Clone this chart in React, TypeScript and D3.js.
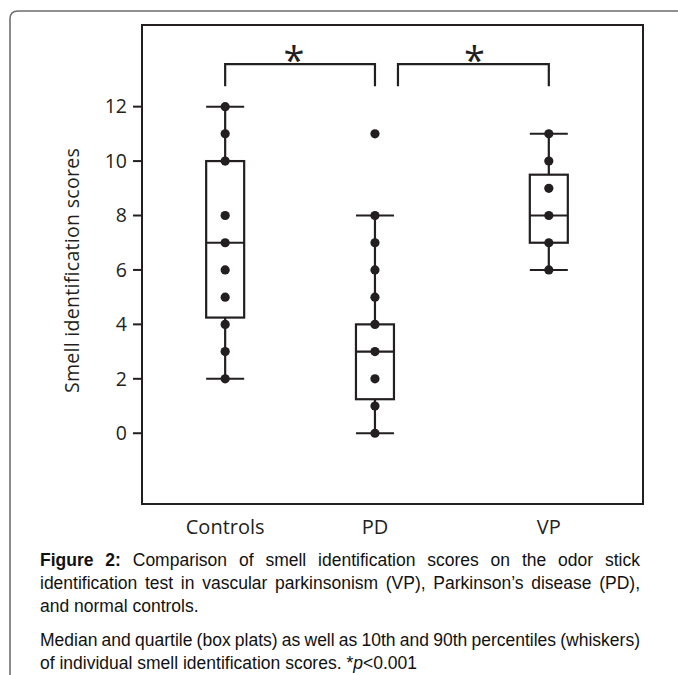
import React, { useLayoutEffect, useRef } from "react";
import * as d3 from "d3";

// ---- data ----
const categories = ["Controls", "PD", "VP"];
const controlsScores = [12, 11, 10, 8, 7, 6, 5, 4, 3, 2];
const pdScores = [11, 8, 7, 6, 5, 4, 3, 2, 1, 0];
const vpScores = [11, 10, 9, 8, 7, 6];
const whiskerLow = [2, 0, 6];
const quartileLow = [4.25, 1.25, 7];
const medians = [7, 3, 8];
const quartileHigh = [10, 4, 9.5];
const whiskerHigh = [12, 8, 11];
const yTicks = [0, 2, 4, 6, 8, 10, 12];
const yDomain = [-2.6, 15];
const comparisons = [
  { from: "Controls", to: "PD", label: "*" },
  { from: "PD", to: "VP", label: "*" },
];
const bracketTop = 13.56;
const bracketBottom = 12.75;
const yLabel = "Smell identification scores";

const scoresByCat = [controlsScores, pdScores, vpScores];

// ---- layout ----
const W = 678;
const H = 675;
const frame = { left: 142, right: 643, top: 25, bottom: 504 };
const catFractions = [0.166, 0.465, 0.812];
const boxHalf = 19;
const INK = "#231f20";
const chartFont = "'Open Sans', 'Noto Sans', sans-serif";
const capFont = "'Liberation Sans', Arial, sans-serif";

const captionLines = [
  { parts: [{ t: "Figure 2:", b: true }, { t: " Comparison of smell identification scores on the odor stick" }], y: 566, justify: true },
  { parts: [{ t: "identification test in vascular parkinsonism (VP), Parkinson\u2019s disease (PD)," }], y: 589, justify: true },
  { parts: [{ t: "and normal controls." }], y: 612, justify: false },
  { parts: [{ t: "Median and quartile (box plats) as well as 10th and 90th percentiles (whiskers)" }], y: 646, justify: true },
  { parts: [{ t: "of individual smell identification scores. *" }, { t: "p", i: true }, { t: "<0.001" }], y: 669, justify: false },
];
const capLeft = 40;
const capRight = 640;

export default function App() {
  const capRef = useRef<SVGGElement>(null);

  const frac = d3.scaleLinear().domain([0, 1]).range([frame.left, frame.right]);
  const x = d3
    .scaleOrdinal<string, number>()
    .domain(categories)
    .range(catFractions.map((f) => frac(f)));
  const y = d3.scaleLinear().domain(yDomain).range([frame.bottom, frame.top]);

  useLayoutEffect(() => {
    const g = capRef.current;
    if (!g) return;
    const texts = g.querySelectorAll("text");
    texts.forEach((el, i) => {
      const line = captionLines[i];
      if (!line || !line.justify) return;
      const full = line.parts.map((p) => p.t).join("");
      const spaces = (full.match(/ /g) || []).length;
      el.setAttribute("word-spacing", "0");
      const natural = (el as SVGTextElement).getComputedTextLength();
      const extra = Math.max(-2, (capRight - capLeft - natural) / spaces);
      el.setAttribute("word-spacing", String(extra));
    });
  }, []);

  const boxes = categories.map((c, i) => ({
    c,
    cx: x(c),
    wl: whiskerLow[i],
    q1: quartileLow[i],
    med: medians[i],
    q3: quartileHigh[i],
    wh: whiskerHigh[i],
    pts: scoresByCat[i],
  }));

  return (
    <svg width={W} height={H} style={{ display: "block", position: "absolute", left: 0, top: 0 }}>
      <rect width={W} height={H} fill="#fff" />
      {/* outer panel border */}
      <path
        d={`M10,${H + 5} L10,19 Q10,11 18,11 L${W + 5},11`}
        fill="none"
        stroke="#6d6e70"
        strokeWidth={1.6}
      />
      {/* frame */}
      <rect
        x={frame.left}
        y={frame.top}
        width={frame.right - frame.left}
        height={frame.bottom - frame.top}
        fill="none"
        stroke={INK}
        strokeWidth={2}
      />
      {/* y ticks */}
      {yTicks.map((t) => (
        <g key={t}>
          <line x1={frame.left - 9} x2={frame.left} y1={y(t)} y2={y(t)} stroke={INK} strokeWidth={2} />
          <text
            x={frame.left - 15}
            y={y(t)}
            dy="0.35em"
            textAnchor="end"
            fontFamily={chartFont}
            fontSize={19.5}
            fill={INK}
          >
            {t}
          </text>
        </g>
      ))}
      {/* y label */}
      <text
        transform={`translate(79,${(frame.top + frame.bottom) / 2 + 6}) rotate(-90)`}
        textAnchor="middle"
        fontFamily={chartFont}
        fontSize={19.5}
        letterSpacing={0.3}
        fill={INK}
      >
        {yLabel}
      </text>
      {/* category labels */}
      {categories.map((c) => (
        <text
          key={c}
          x={x(c)}
          y={534}
          textAnchor="middle"
          fontFamily={chartFont}
          fontSize={20}
          fill={INK}
        >
          {c}
        </text>
      ))}
      {/* boxes */}
      {boxes.map((b) => (
        <g key={b.c}>
          <line x1={b.cx} x2={b.cx} y1={y(b.wl)} y2={y(b.q1)} stroke={INK} strokeWidth={2.2} />
          <line x1={b.cx} x2={b.cx} y1={y(b.q3)} y2={y(b.wh)} stroke={INK} strokeWidth={2.2} />
          <line x1={b.cx - boxHalf} x2={b.cx + boxHalf} y1={y(b.wl)} y2={y(b.wl)} stroke={INK} strokeWidth={2} />
          <line x1={b.cx - boxHalf} x2={b.cx + boxHalf} y1={y(b.wh)} y2={y(b.wh)} stroke={INK} strokeWidth={2} />
          <rect
            x={b.cx - boxHalf}
            y={y(b.q3)}
            width={boxHalf * 2}
            height={y(b.q1) - y(b.q3)}
            fill="#fff"
            stroke={INK}
            strokeWidth={2.2}
          />
          <line x1={b.cx - boxHalf} x2={b.cx + boxHalf} y1={y(b.med)} y2={y(b.med)} stroke={INK} strokeWidth={2.2} />
          {b.pts.map((p, j) => (
            <circle key={j} cx={b.cx} cy={y(p)} r={4.6} fill={INK} />
          ))}
        </g>
      ))}
      {/* significance brackets */}
      {comparisons.map((cmp, i) => {
        const x1 = x(cmp.from);
        const x2 = x(cmp.to);
        const x1a = i === 1 ? x1 + 23 : x1;
        return (
          <g key={i}>
            <path
              d={`M${x1a},${y(bracketBottom)} V${y(bracketTop)} H${x2} V${y(bracketBottom)}`}
              fill="none"
              stroke={INK}
              strokeWidth={2.2}
            />
            <text
              x={(x1a + x2) / 2 + (i === 0 ? -6 : 1)}
              y={y(bracketTop) + 10}
              textAnchor="middle"
              fontFamily={chartFont}
              fontSize={38}
              fill={INK}
            >
              {cmp.label}
            </text>
          </g>
        );
      })}
      {/* caption */}
      <g ref={capRef}>
        {captionLines.map((line, i) => (
          <text key={i} x={capLeft} y={line.y} fontFamily={capFont} fontSize={17.5} fill="#111">
            {line.parts.map((p, j) => (
              <tspan
                key={j}
                fontWeight={p.b ? "bold" : undefined}
                fontStyle={p.i ? "italic" : undefined}
              >
                {p.t}
              </tspan>
            ))}
          </text>
        ))}
      </g>
    </svg>
  );
}
